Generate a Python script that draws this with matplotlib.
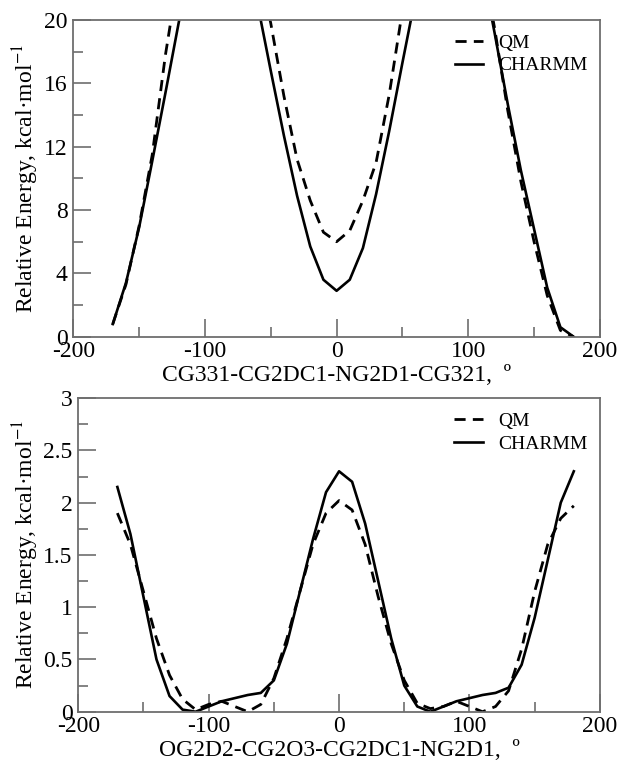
import numpy as np
import matplotlib
matplotlib.use('Agg')
from matplotlib import pyplot as plt
from matplotlib.ticker import MultipleLocator, FuncFormatter

# dihedral angles, degrees
angle = np.arange(-170, 181, 10)

# top panel: CG331-CG2DC1-NG2D1-CG321
qm_top = [0.8, 3.3, 7.0, 11.5, 17.8, 23.0, 26.0, 28.0, 29.0, 28.0, 26.0, 23.5,
          19.8, 15.2, 11.2, 8.6, 6.6, 6.0, 6.7, 8.6, 11.0, 15.3, 20.6, 24.0,
          26.5, 28.0, 28.5, 27.5, 24.0, 19.5, 14.3, 9.8, 6.0, 2.6, 0.4, 0.0]
charmm_top = [0.8, 3.4, 6.9, 11.1, 15.4, 19.8, 24.0, 27.0, 28.0, 27.5, 25.0, 21.0,
              16.8, 12.7, 8.9, 5.7, 3.6, 2.9, 3.6, 5.6, 9.0, 13.0, 17.3, 21.5,
              25.0, 27.0, 28.0, 27.0, 23.5, 19.2, 14.7, 10.5, 6.8, 3.1, 0.6, 0.0]

# bottom panel: OG2D2-CG2O3-CG2DC1-NG2D1
qm_bot = [1.9, 1.6, 1.15, 0.7, 0.35, 0.12, 0.02, 0.07, 0.1, 0.05, 0.0, 0.07,
          0.32, 0.7, 1.15, 1.6, 1.9, 2.02, 1.93, 1.6, 1.1, 0.65, 0.3, 0.08,
          0.03, 0.05, 0.1, 0.05, 0.0, 0.05, 0.2, 0.6, 1.15, 1.6, 1.85, 1.97]
charmm_bot = [2.15, 1.7, 1.1, 0.5, 0.15, 0.02, 0.0, 0.05, 0.1, 0.13, 0.16, 0.18,
              0.3, 0.65, 1.15, 1.65, 2.1, 2.3, 2.2, 1.8, 1.25, 0.7, 0.25, 0.05,
              0.0, 0.05, 0.1, 0.13, 0.16, 0.18, 0.23, 0.45, 0.9, 1.45, 2.0, 2.3]

plt.rcParams['font.family'] = ['Liberation Serif', 'DejaVu Serif']
plt.rcParams['mathtext.fontset'] = 'stix'
plt.rcParams['axes.unicode_minus'] = False

ylab = 'Relative Energy, kcal\u00b7mol$^{-1}$'
grey = '#6e6e6e'


def style_axes(ax, ymax, ymajor, yminor, fmt):
    ax.set_xlim(-200, 200)
    ax.set_ylim(0, ymax)
    ax.xaxis.set_major_locator(MultipleLocator(100))
    ax.xaxis.set_minor_locator(MultipleLocator(50))
    ax.yaxis.set_major_locator(MultipleLocator(ymajor))
    ax.yaxis.set_minor_locator(MultipleLocator(yminor))
    ax.yaxis.set_major_formatter(FuncFormatter(fmt))
    ax.tick_params(which='both', direction='in', color=grey, width=1.2,
                   top=False, right=False, labelsize=17)
    ax.tick_params(which='major', length=13)
    ax.tick_params(which='minor', length=7)
    ax.tick_params(axis='x', pad=3)
    ax.tick_params(axis='y', pad=4)
    for s in ax.spines.values():
        s.set_color(grey)
        s.set_linewidth(1.3)
    ax.set_ylabel(ylab, fontsize=17, labelpad=2)
    ax.legend(loc='upper right', frameon=False, fontsize=14, handlelength=1.45,
              handletextpad=0.8, labelspacing=0.25, bbox_to_anchor=(1.01, 1.01))


fig = plt.figure(figsize=(6.21, 7.63), dpi=100)

ax1 = fig.add_axes([0.118, 0.5587, 0.848, 0.415])
ax1.plot(angle, qm_top, color='black', lw=2.0, ls=(0, (4, 2.6)), label='QM')
ax1.plot(angle, charmm_top, color='black', lw=1.9, label='CHARMM')
style_axes(ax1, 20, 4, 2, lambda v, p: '%d' % v)
ax1.set_xlabel('CG331-CG2DC1-NG2D1-CG321,  \u00ba', fontsize=17, labelpad=2)

ax2 = fig.add_axes([0.126, 0.0672, 0.840, 0.411])
ax2.plot(angle, qm_bot, color='black', lw=2.0, ls=(0, (4, 2.6)), label='QM')
ax2.plot(angle, charmm_bot, color='black', lw=1.9, label='CHARMM')
style_axes(ax2, 3, 0.5, 0.25, lambda v, p: '%g' % v)
ax2.set_xlabel('OG2D2-CG2O3-CG2DC1-NG2D1,  \u00ba', fontsize=17, labelpad=2)

fig.savefig('out.png', dpi=100)
